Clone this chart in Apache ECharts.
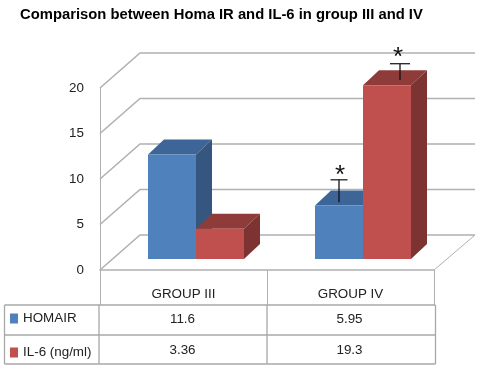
<!DOCTYPE html>
<html>
<head>
<meta charset="utf-8">
<style>html,body{margin:0;padding:0;background:#fff}#c{width:486px;height:371px}</style>
<script src="https://cdn.jsdelivr.net/npm/echarts@6/dist/echarts.min.js"></script>
</head>
<body>
<div id="c"></div>
<script>
const titleText = 'Comparison between Homa IR and IL-6 in group III and IV';
const categories = ['GROUP III', 'GROUP IV'];
const homaIr = [11.6, 5.95];
const il6 = [3.36, 19.3];
const gridTicks = [0, 5, 10, 15, 20];
// significance markers: [category, low end, high end]
const homaMarker = [[1, 6.3, 8.8]];
const il6Marker = [[1, 19.9, 21.7]];

const FONT = '"Liberation Sans", Arial, sans-serif';
const LINE = '#b0b0b0';
const DX = 40, DY = -35;      // wall depth
const BDX = 16, BDY = -15;    // bar depth

function poly(points, stroke, width) {
  return { type: 'polyline', shape: { points }, style: { stroke, lineWidth: width, fill: null } };
}
function face(points, fill) {
  return { type: 'polygon', shape: { points }, style: { fill, stroke: null } };
}
function barItem(side, front, topC, sideC) {
  return function (params, api) {
    const i = api.value(0);
    const p = api.coord([i, api.value(1)]);
    const base = api.coord([i, 0]);
    const w = 48;
    const x0 = side < 0 ? p[0] - w : p[0];
    const x1 = x0 + w;
    const yT = p[1], yB = base[1];
    return {
      type: 'group',
      children: [
        face([[x0, yT], [x1, yT], [x1 + BDX, yT + BDY], [x0 + BDX, yT + BDY]], topC),
        face([[x1, yT], [x1 + BDX, yT + BDY], [x1 + BDX, yB + BDY], [x1, yB]], sideC),
        face([[x0, yT], [x1, yT], [x1, yB], [x0, yB]], front)
      ]
    };
  };
}
function markerItem(xShift, capHalf, starShift, starLift) {
  return function (params, api) {
    const i = api.value(0);
    const lo = api.coord([i, api.value(1)]);
    const hi = api.coord([i, api.value(2)]);
    const x = lo[0] + xShift;
    return {
      type: 'group',
      children: [
        { type: 'line', shape: { x1: x, y1: lo[1], x2: x, y2: hi[1] }, style: { stroke: '#111', lineWidth: 1.3 } },
        { type: 'line', shape: { x1: x - capHalf, y1: hi[1], x2: x + capHalf, y2: hi[1] }, style: { stroke: '#222', lineWidth: 1.3 } },
        { type: 'text', style: { text: '*', x: x + starShift, y: hi[1] + starLift, align: 'center', verticalAlign: 'bottom', font: '26px ' + FONT, fill: '#111' } }
      ]
    };
  };
}

const chart = echarts.init(document.getElementById('c'), null, { renderer: 'canvas' });
chart.setOption({
  animation: false,
  backgroundColor: '#fff',
  title: {
    text: titleText, left: 15, top: 2,
    textStyle: { fontFamily: FONT, fontSize: 14.8, fontWeight: 'bold', color: '#000' }
  },
  legend: {
    orient: 'vertical', left: 5, top: 307, itemWidth: 8, itemHeight: 10, itemGap: 21,
    icon: 'rect', selectedMode: false,
    data: ['HOMAIR', 'IL-6 (ng/ml)'],
    textStyle: { fontFamily: FONT, fontSize: 13.4, color: '#222' }
  },
  grid: [
    { left: 100, width: 334, top: 88, height: 182 },
    { left: 112.5, width: 334, top: 79, height: 180 }
  ],
  xAxis: [
    {
      type: 'category', gridIndex: 0, data: categories,
      axisLine: { lineStyle: { color: LINE, width: 1.5 } },
      axisTick: { show: true, length: 35, lineStyle: { color: LINE, width: 1 } },
      axisLabel: { margin: 18, fontFamily: FONT, fontSize: 13.4, color: '#222' }
    },
    { type: 'category', gridIndex: 1, data: categories, show: false }
  ],
  yAxis: [
    {
      type: 'value', gridIndex: 0, min: 0, max: 20, interval: 5,
      splitLine: { show: false },
      axisLine: { show: true, lineStyle: { color: LINE, width: 1 } },
      axisTick: { show: false },
      axisLabel: { margin: 16, fontFamily: FONT, fontSize: 13.4, color: '#222' }
    },
    { type: 'value', gridIndex: 1, min: 0, max: 20, show: false, splitLine: { show: false } }
  ],
  series: [
    {
      type: 'custom', xAxisIndex: 0, yAxisIndex: 0, silent: true, z: 1,
      data: gridTicks.map(v => [0, v]),
      clip: false,
      renderItem(params, api) {
        const cs = params.coordSys;
        const v = api.value(1);
        const y = api.coord([0, v])[1];
        const pts = [[cs.x, y], [cs.x + DX, y + DY], [cs.x + cs.width + DX + 1, y + DY]];
        const kids = [poly(pts, LINE, 1.5)];
        if (v === 0) {
          kids.push(poly([[cs.x + cs.width, y], [cs.x + cs.width + DX + 1, y + DY]], LINE, 1));
        }
        return { type: 'group', children: kids };
      }
    },
    {
      name: 'HOMAIR', type: 'custom', xAxisIndex: 1, yAxisIndex: 1, z: 2, clip: false,
      itemStyle: { color: '#4F81BD' },
      data: homaIr.map((v, i) => [i, v]),
      renderItem: barItem(-1, '#4F81BD', '#3E6597', '#34567F')
    },
    {
      name: 'IL-6 (ng/ml)', type: 'custom', xAxisIndex: 1, yAxisIndex: 1, z: 3, clip: false,
      itemStyle: { color: '#C0504D' },
      data: il6.map((v, i) => [i, v]),
      renderItem: barItem(1, '#C0504D', '#8F3B39', '#7D3331')
    },
    {
      type: 'custom', xAxisIndex: 1, yAxisIndex: 1, z: 4, silent: true, clip: false,
      data: homaMarker, renderItem: markerItem(-24, 8.5, 1, 9)
    },
    {
      type: 'custom', xAxisIndex: 1, yAxisIndex: 1, z: 4, silent: true, clip: false,
      data: il6Marker, renderItem: markerItem(37, 10, -2, 7)
    },
    {
      // data table below the plot: one item per category, values from the series arrays
      type: 'custom', xAxisIndex: 0, yAxisIndex: 0, z: 5, silent: true, clip: false,
      data: categories.map((c, i) => [i, 0]),
      renderItem(params, api) {
        const i = api.value(0);
        const cx = api.coord([i, 0])[0];
        const txt = (text, y) => ({
          type: 'text',
          style: { text, x: cx - 1, y, align: 'center', verticalAlign: 'middle', font: '13.4px ' + FONT, fill: '#222' }
        });
        const kids = [txt(String(homaIr[i]), 319), txt(String(il6[i]), 350)];
        if (i === 0) {
          const L = 4.5, R = 435.5, rows = [305, 335, 364], cols = [4.5, 99, 267, 435.5];
          rows.forEach(y => kids.push({ type: 'line', shape: { x1: L, y1: y, x2: R, y2: y }, style: { stroke: '#a8a8a8', lineWidth: 1.3 } }));
          cols.forEach(x => kids.push({ type: 'line', shape: { x1: x, y1: 305, x2: x, y2: 364 }, style: { stroke: '#a8a8a8', lineWidth: 1.3 } }));
        }
        return { type: 'group', children: kids };
      }
    }
  ]
});
</script>
</body>
</html>
